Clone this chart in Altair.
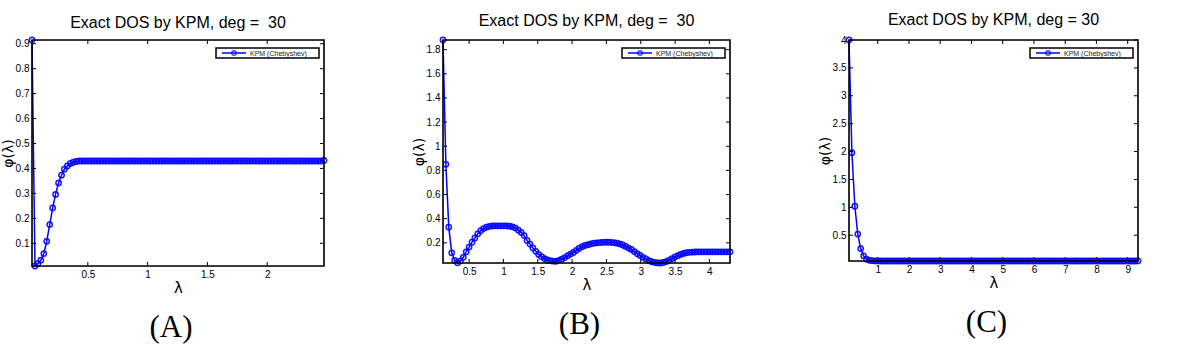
import altair as alt
import pandas as pd

# ---------------- data ----------------
lam_a = [0.033, 0.058, 0.082, 0.107, 0.132, 0.156, 0.181, 0.206, 0.230, 0.255,
         0.280, 0.304, 0.329, 0.354, 0.378, 0.403, 0.428, 0.452, 0.477, 0.502,
         0.526, 0.551, 0.576, 0.600, 0.625, 0.650, 0.674, 0.699, 0.724, 0.748,
         0.773, 0.798, 0.822, 0.847, 0.872, 0.896, 0.921, 0.946, 0.970, 0.995,
         1.020, 1.044, 1.069, 1.094, 1.118, 1.143, 1.168, 1.192, 1.217, 1.242,
         1.266, 1.291, 1.316, 1.340, 1.365, 1.390, 1.414, 1.439, 1.464, 1.488,
         1.513, 1.538, 1.562, 1.587, 1.612, 1.636, 1.661, 1.686, 1.710, 1.735,
         1.760, 1.784, 1.809, 1.834, 1.858, 1.883, 1.908, 1.932, 1.957, 1.982,
         2.006, 2.031, 2.056, 2.080, 2.105, 2.130, 2.154, 2.179, 2.204, 2.228,
         2.253, 2.278, 2.302, 2.327, 2.352, 2.376, 2.401, 2.426, 2.450, 2.475]
phi_a = [0.915, 0.009, 0.018, 0.032, 0.059, 0.108, 0.175, 0.242, 0.296, 0.342,
         0.373, 0.397, 0.410, 0.420, 0.425, 0.428, 0.430, 0.430, 0.430, 0.430,
         0.430, 0.430, 0.430, 0.430, 0.430, 0.430, 0.430, 0.430, 0.430, 0.430,
         0.430, 0.430, 0.430, 0.430, 0.430, 0.430, 0.430, 0.430, 0.430, 0.430,
         0.430, 0.430, 0.430, 0.430, 0.430, 0.430, 0.430, 0.430, 0.430, 0.430,
         0.430, 0.430, 0.430, 0.430, 0.430, 0.430, 0.430, 0.430, 0.430, 0.430,
         0.430, 0.430, 0.430, 0.430, 0.430, 0.430, 0.430, 0.430, 0.430, 0.430,
         0.430, 0.430, 0.430, 0.430, 0.430, 0.430, 0.430, 0.430, 0.430, 0.430,
         0.430, 0.430, 0.430, 0.430, 0.430, 0.430, 0.430, 0.430, 0.430, 0.430,
         0.430, 0.430, 0.430, 0.430, 0.430, 0.430, 0.430, 0.430, 0.430, 0.432]

lam_b = [0.120, 0.162, 0.204, 0.247, 0.289, 0.331, 0.373, 0.416, 0.458, 0.500,
         0.542, 0.584, 0.627, 0.669, 0.711, 0.753, 0.796, 0.838, 0.880, 0.922,
         0.964, 1.007, 1.049, 1.091, 1.133, 1.176, 1.218, 1.260, 1.302, 1.344,
         1.387, 1.429, 1.471, 1.513, 1.556, 1.598, 1.640, 1.682, 1.724, 1.767,
         1.809, 1.851, 1.893, 1.936, 1.978, 2.020, 2.062, 2.104, 2.147, 2.189,
         2.231, 2.273, 2.316, 2.358, 2.400, 2.442, 2.484, 2.527, 2.569, 2.611,
         2.653, 2.696, 2.738, 2.780, 2.822, 2.864, 2.907, 2.949, 2.991, 3.033,
         3.076, 3.118, 3.160, 3.202, 3.244, 3.287, 3.329, 3.371, 3.413, 3.456,
         3.498, 3.540, 3.582, 3.624, 3.667, 3.709, 3.751, 3.793, 3.836, 3.878,
         3.920, 3.962, 4.004, 4.047, 4.089, 4.131, 4.173, 4.216, 4.258, 4.300]
phi_b = [1.880, 0.850, 0.330, 0.117, 0.055, 0.035, 0.050, 0.080, 0.125, 0.165,
         0.205, 0.240, 0.275, 0.300, 0.318, 0.330, 0.337, 0.340, 0.341, 0.341,
         0.341, 0.341, 0.341, 0.338, 0.333, 0.322, 0.305, 0.285, 0.260, 0.220,
         0.190, 0.158, 0.130, 0.104, 0.085, 0.070, 0.058, 0.052, 0.048, 0.047,
         0.055, 0.065, 0.078, 0.093, 0.107, 0.120, 0.138, 0.155, 0.168, 0.178,
         0.185, 0.192, 0.197, 0.200, 0.202, 0.204, 0.205, 0.205, 0.204, 0.201,
         0.197, 0.191, 0.182, 0.170, 0.157, 0.145, 0.128, 0.110, 0.095, 0.080,
         0.066, 0.053, 0.044, 0.038, 0.034, 0.033, 0.037, 0.045, 0.056, 0.070,
         0.083, 0.094, 0.104, 0.112, 0.118, 0.121, 0.123, 0.124, 0.125, 0.125,
         0.125, 0.125, 0.125, 0.125, 0.125, 0.125, 0.125, 0.125, 0.125, 0.126]

lam_c = [0.080, 0.173, 0.267, 0.360, 0.454, 0.547, 0.641, 0.734, 0.827, 0.921,
         1.014, 1.108, 1.201, 1.295, 1.388, 1.482, 1.575, 1.668, 1.762, 1.855,
         1.949, 2.042, 2.136, 2.229, 2.322, 2.416, 2.509, 2.603, 2.696, 2.790,
         2.883, 2.976, 3.070, 3.163, 3.257, 3.350, 3.444, 3.537, 3.630, 3.724,
         3.817, 3.911, 4.004, 4.098, 4.191, 4.284, 4.378, 4.471, 4.565, 4.658,
         4.752, 4.845, 4.938, 5.032, 5.125, 5.219, 5.312, 5.406, 5.499, 5.592,
         5.686, 5.779, 5.873, 5.966, 6.060, 6.153, 6.247, 6.340, 6.433, 6.527,
         6.620, 6.714, 6.807, 6.901, 6.994, 7.087, 7.181, 7.274, 7.368, 7.461,
         7.555, 7.648, 7.741, 7.835, 7.928, 8.022, 8.115, 8.209, 8.302, 8.395,
         8.489, 8.582, 8.676, 8.769, 8.863, 8.956, 9.049, 9.143, 9.236, 9.330]
phi_c = [4.000, 1.980, 1.020, 0.520, 0.260, 0.130, 0.070, 0.050, 0.043, 0.040,
         0.039, 0.038, 0.038, 0.038, 0.038, 0.038, 0.038, 0.038, 0.038, 0.038,
         0.038, 0.038, 0.038, 0.038, 0.038, 0.038, 0.038, 0.038, 0.038, 0.038,
         0.038, 0.038, 0.038, 0.038, 0.038, 0.038, 0.038, 0.038, 0.038, 0.038,
         0.038, 0.038, 0.038, 0.038, 0.038, 0.038, 0.038, 0.038, 0.038, 0.038,
         0.038, 0.038, 0.038, 0.038, 0.038, 0.038, 0.038, 0.038, 0.038, 0.038,
         0.038, 0.038, 0.038, 0.038, 0.038, 0.038, 0.038, 0.038, 0.038, 0.038,
         0.038, 0.038, 0.038, 0.038, 0.038, 0.038, 0.038, 0.038, 0.038, 0.038,
         0.038, 0.038, 0.038, 0.038, 0.038, 0.038, 0.038, 0.038, 0.038, 0.038,
         0.038, 0.038, 0.038, 0.038, 0.038, 0.038, 0.038, 0.038, 0.038, 0.039]

xticks_a = [0.5, 1, 1.5, 2]
yticks_a = [0.1, 0.2, 0.3, 0.4, 0.5, 0.6, 0.7, 0.8, 0.9]
xticks_b = [0.5, 1, 1.5, 2, 2.5, 3, 3.5, 4]
yticks_b = [0.2, 0.4, 0.6, 0.8, 1, 1.2, 1.4, 1.6, 1.8]
xticks_c = [1, 2, 3, 4, 5, 6, 7, 8, 9]
yticks_c = [0.5, 1, 1.5, 2, 2.5, 3, 3.5, 4]

titles = ["Exact DOS by KPM, deg = \u00a030",
          "Exact DOS by KPM, deg = \u00a030",
          "Exact DOS by KPM, deg = 30"]
panel_labels = ["(A)", "(B)", "(C)"]
legend_label = "KPM (Chebyshev)"

BLUE = "#0000ff"
SANS = "Liberation Sans"


def panel(lam, phi, xticks, yticks, title, label, w, h, toff):
    df = pd.DataFrame({"lam": lam, "phi": phi})
    xs = alt.Scale(domain=[min(lam), max(lam)], nice=False, zero=False)
    ys = alt.Scale(domain=[min(phi), max(phi)], nice=False, zero=False)
    ax_x = alt.Axis(
        values=xticks, format="~g", title="λ", labelPadding=3, ticks=False,
        domain=False, grid=False, minExtent=0, labelOverlap=False,
        titleBaseline="alphabetic", titleY=26, titleFontSize=15,
        titleFont="DejaVu Sans", titleFontWeight="normal")
    ax_y = alt.Axis(
        values=yticks, format="~g", title="φ(λ)", labelPadding=3, ticks=False,
        domain=False, grid=False, minExtent=0, labelOverlap=False,
        titlePadding=0, titleFontSize=14, titleFont="DejaVu Sans",
        titleFontWeight="normal")

    base = alt.Chart(df)
    x_enc = alt.X("lam:Q", scale=xs, axis=ax_x)
    y_enc = alt.Y("phi:Q", scale=ys, axis=ax_y)
    line = base.mark_line(color=BLUE, strokeWidth=1.5).encode(x=x_enc, y=y_enc)
    pts = base.mark_point(color=BLUE, filled=False, size=28, strokeWidth=1.5,
                          opacity=0.9).encode(x=x_enc, y=y_enc)

    # inward tick marks on all four sides, placed by the shared scales
    xt = alt.Chart(pd.DataFrame({"t": xticks}))
    yt = alt.Chart(pd.DataFrame({"t": yticks}))
    tk = dict(color="black", strokeWidth=1)
    tx = alt.X("t:Q", scale=xs, axis=ax_x)
    ty = alt.Y("t:Q", scale=ys, axis=ax_y)
    xt_bot = xt.mark_rule(**tk).encode(x=tx, y=alt.value(h - 4), y2=alt.value(h))
    xt_top = xt.mark_rule(**tk).encode(x=tx, y=alt.value(0), y2=alt.value(4))
    yt_left = yt.mark_rule(**tk).encode(y=ty, x=alt.value(0), x2=alt.value(4))
    yt_right = yt.mark_rule(**tk).encode(y=ty, x=alt.value(w - 4), x2=alt.value(w))

    one = alt.Chart(pd.DataFrame({"k": [0]}))
    frame = one.mark_rect(fill=None, stroke="black", strokeWidth=1.6).encode(
        x=alt.value(0), x2=alt.value(w), y=alt.value(0), y2=alt.value(h))
    lg_l, lg_r = w - 108, w - 5
    box = one.mark_rect(fill="white", stroke="black", strokeWidth=1.5).encode(
        x=alt.value(lg_l), x2=alt.value(lg_r), y=alt.value(8), y2=alt.value(18))
    lg_line = one.mark_rule(color=BLUE, strokeWidth=1.5).encode(
        x=alt.value(lg_l + 6), x2=alt.value(lg_l + 30), y=alt.value(13))
    lg_pt = one.mark_point(color=BLUE, filled=False, size=20, strokeWidth=1.4).encode(
        x=alt.value(lg_l + 18), y=alt.value(13))
    lg_txt = one.mark_text(align="left", baseline="middle", fontSize=7,
                           font=SANS, color="#222").encode(
        x=alt.value(lg_l + 34), y=alt.value(13.5), text=alt.value(legend_label))
    plabel = one.mark_text(align="center", baseline="alphabetic", fontSize=31,
                           font="Liberation Serif", color="black").encode(
        x=alt.value(w / 2 - 7), y=alt.value(h + 71), text=alt.value(label))

    return alt.layer(line, pts, xt_bot, xt_top, yt_left, yt_right, frame,
                     box, lg_line, lg_pt, lg_txt, plabel).properties(
        width=w, height=h,
        title=alt.TitleParams(title, fontSize=16, font=SANS, fontWeight="normal",
                              color="black", offset=toff),
    )


pa = panel(lam_a, phi_a, xticks_a, yticks_a, titles[0], panel_labels[0], 292, 226, 3)
pb = panel(lam_b, phi_b, xticks_b, yticks_b, titles[1], panel_labels[1], 287, 223, 5)
pc = panel(lam_c, phi_c, xticks_c, yticks_c, titles[2], panel_labels[2], 289, 221, 6)

chart = alt.hconcat(pa, pb, pc, spacing=80).properties(
    padding={"left": 0, "top": 11, "right": 0, "bottom": 0}
).configure_view(
    stroke=None
).configure_axis(
    labelFont=SANS, labelFontSize=6.5, labelColor="#333"
).configure(background="white")

chart.save("out.html", embed_options={"renderer": "svg", "actions": False})
